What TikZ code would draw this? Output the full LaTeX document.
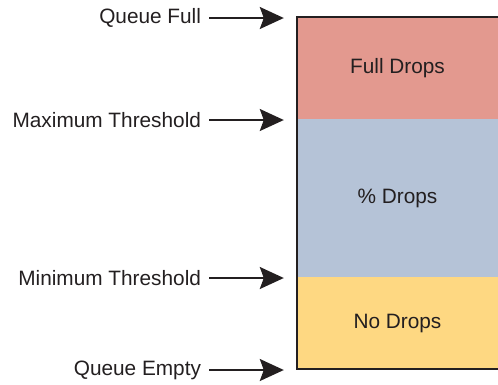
\documentclass[tikz,border=0pt]{standalone}
\usepackage{fontspec}
\setmainfont{Liberation Sans}
\usetikzlibrary{arrows.meta}
\definecolor{fullc}{HTML}{E3998F}
\definecolor{midc}{HTML}{B5C3D7}
\definecolor{noc}{HTML}{FED882}
\definecolor{ink}{HTML}{231F20}
\begin{document}
\begin{tikzpicture}[x=1pt,y=-1pt,
  zone/.style={draw=none,rectangle,inner sep=0pt,minimum width=201pt,text=ink,
    font=\fontsize{20.8}{24}\selectfont},
  lbl/.style={anchor=east,inner sep=0pt,outer xsep=8pt,text=ink,
    font=\fontsize{20.8}{24}\selectfont},
  arr/.style={draw=ink,line width=1.8pt,shorten >=13pt,-{Stealth[length=24pt,width=22pt,inset=4pt]}},
  border/.style={draw=ink,line width=2pt}]
\useasboundingbox (0,0) rectangle (498,384);
\node[zone,fill=fullc,minimum height=102pt] (full) at (397.5,68) {Full Drops};
\node[zone,fill=midc,minimum height=158pt] (mid) at (397.5,198) {\% Drops};
\node[zone,fill=noc,minimum height=92pt] (none) at (397.5,323) {No Drops};
\draw[border] (full.north east) -- (full.north west) -- (none.south west) -- (none.south east);
\node[lbl] (qf) at (209,18) {Queue Full};
\node[lbl] (mx) at (209,120) {Maximum Threshold};
\node[lbl] (mn) at (209,278) {Minimum Threshold};
\node[lbl] (qe) at (209,370) {Queue Empty};
\draw[arr] (qf.east) -- (qf.east -| full.west);
\draw[arr] (mx.east) -- (mx.east -| mid.west);
\draw[arr] (mn.east) -- (mn.east -| none.west);
\draw[arr] (qe.east) -- (qe.east -| none.west);
\end{tikzpicture}
\end{document}
